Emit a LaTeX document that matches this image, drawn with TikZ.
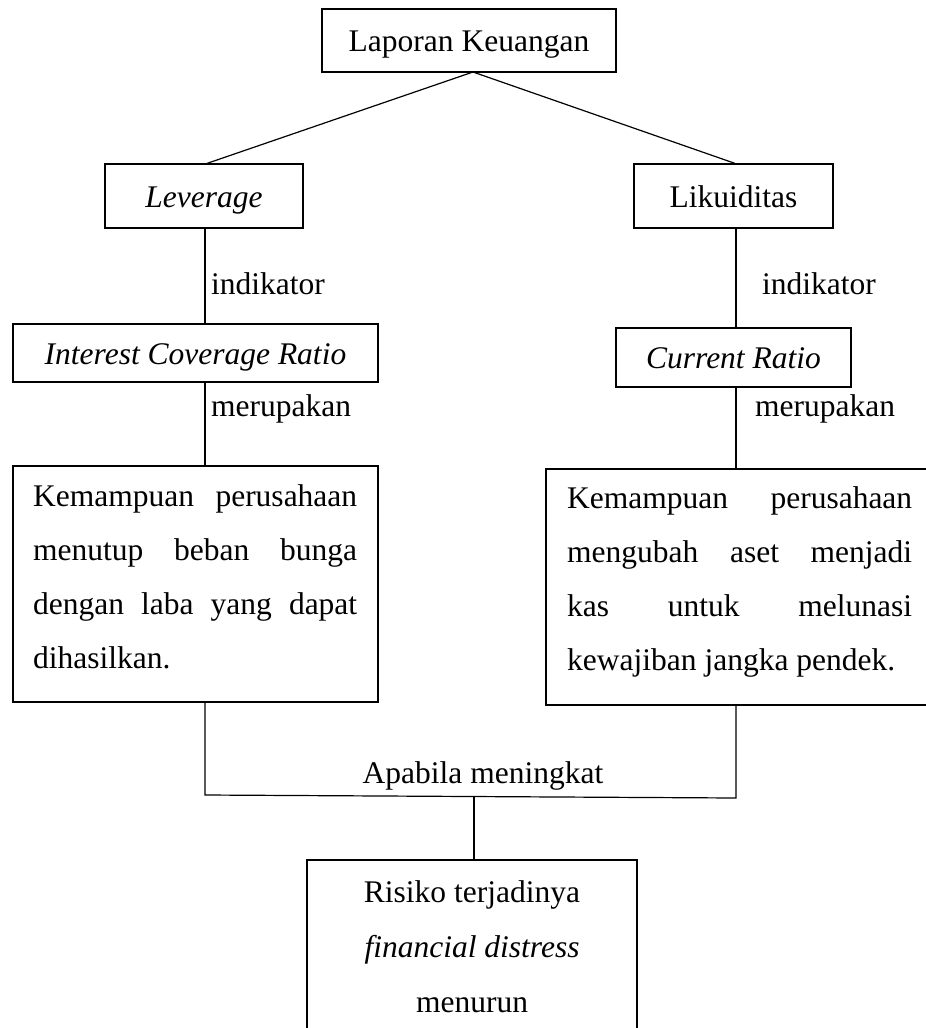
\documentclass[tikz,border=0pt]{standalone}
\usepackage{fontspec}
\setmainfont{Liberation Serif}
\newcommand\fsz{\fontsize{31.5}{54}\selectfont}
\newcommand\fszb{\fontsize{31.5}{55}\selectfont}
\tikzset{
  box/.style={draw=black, line width=1.2pt, inner sep=0pt, font=\fsz, text height=22pt, text depth=0pt},
  lbl/.style={inner sep=0pt, font=\fsz},
  para/.style={inner sep=0pt, font=\fsz, align=justify, anchor=north west},
  conn/.style={draw=black, line width=1.2pt}
}
\begin{document}
\begin{tikzpicture}[x=1pt,y=-1pt]
\useasboundingbox (0,0) rectangle (926,1028);
% columns
\coordinate (lc) at (205,0);
\coordinate (rc) at (736,0);
% boxes
\node[box, minimum width=294pt, minimum height=63pt] (top) at (469,40.5) {Laporan Keuangan};
\node[box, minimum width=198pt, minimum height=64pt] (lev) at (204,196) {\itshape Leverage};
\node[box, minimum width=199pt, minimum height=64pt] (lik) at (733.5,196) {Likuiditas};
\node[box, minimum width=365pt, minimum height=58pt] (icr) at (195.5,353) {\itshape Interest Coverage Ratio};
\node[box, minimum width=235pt, minimum height=59pt] (cr) at (733.5,357.5) {\itshape Current Ratio};
\node[box, minimum width=365pt, minimum height=236pt] (lbox) at (195.5,584) {};
\node[box, minimum width=384pt, minimum height=236pt] (rbox) at (738,587) {};
\node[box, minimum width=330pt, minimum height=180pt] (bbox) at (472,950) {};
% box texts
\node[para, text width=324pt] (ltxt) at (33,484) {Kemampuan perusahaan\linebreak menutup beban bunga\linebreak dengan laba yang dapat\linebreak dihasilkan.};
\node[para, text width=345pt] (rtxt) at (567,486) {Kemampuan perusahaan\linebreak mengubah aset menjadi\linebreak kas untuk melunasi\linebreak kewajiban jangka pendek.};
\node[inner sep=0pt, font=\fszb, align=center, anchor=north] (btxt) at (472,880) {Risiko terjadinya\\ \textit{financial distress}\\ menurun};
% labels
\node[lbl, anchor=base west] (ind1) at (211,294) {indikator};
\node[lbl, anchor=base west] (ind2) at (762,294) {indikator};
\node[lbl, anchor=base west] (mer1) at (211,416) {merupakan};
\node[lbl, anchor=base west] (mer2) at (755,416) {merupakan};
\node[lbl, anchor=base] (apa) at (483,783) {Apabila meningkat};
% connectors
\coordinate (apex) at (473,72);
\coordinate (jl) at (205,795);
\coordinate (jr) at (736,798);
\coordinate (jm) at (474,796.6);
\draw[conn] (lev.north -| 207,0) -- (apex) -- (lik.north -| 735,0);
\draw[conn] (lev.south -| lc) -- (icr.north -| lc);
\draw[conn] (icr.south -| lc) -- (lbox.north -| lc);
\draw[conn] (lik.south -| rc) -- (cr.north -| rc);
\draw[conn] (cr.south -| rc) -- (rbox.north -| rc);
\draw[conn] (lbox.south -| lc) -- (jl) -- (jr) -- (rbox.south -| rc);
\draw[conn] (jm) -- (bbox.north -| jm);
\end{tikzpicture}
\end{document}
